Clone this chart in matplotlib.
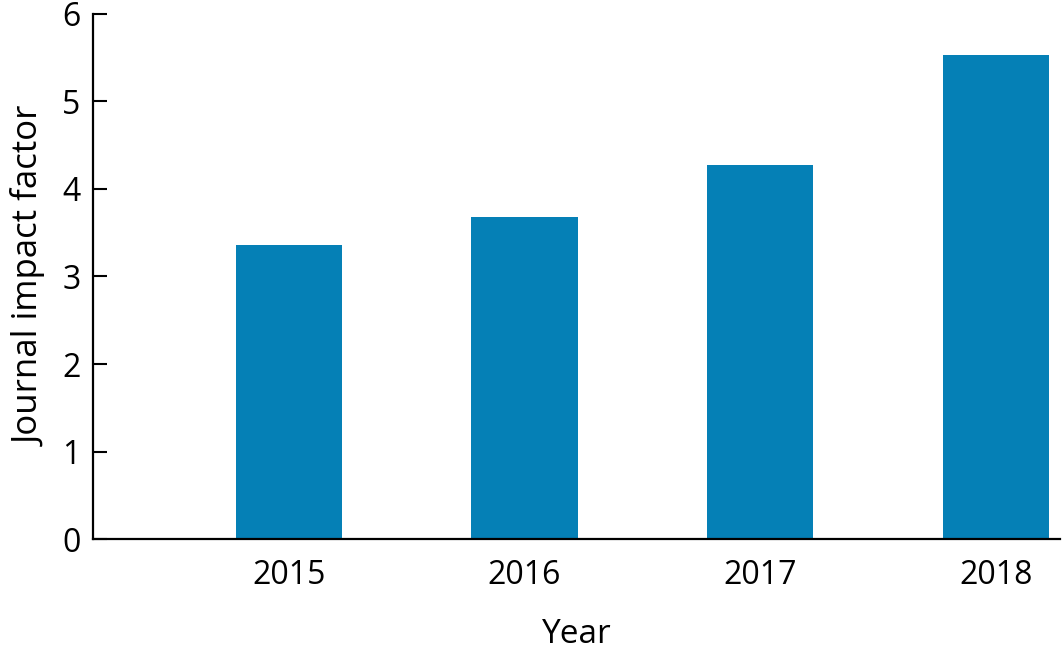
import matplotlib
matplotlib.use("Agg")
import matplotlib.pyplot as plt
import numpy as np

# data
years = ["2015", "2016", "2017", "2018"]
impact = [3.36, 3.68, 4.27, 5.53]

plt.rcParams['font.family'] = ['Open Sans', 'DejaVu Sans']

fig = plt.figure(figsize=(10.64, 6.53), dpi=100)
ax = fig.add_axes([0.0874, 0.1741, 0.9086, 0.805])

x = np.arange(len(years))
ax.bar(x, impact, width=0.45, color='#0580b6')

ax.set_xlim(-0.83, 3.27)
ax.set_ylim(0, 6)
ax.set_yticks(range(0, 7))
ax.set_xticks(x)
ax.set_xticklabels(years)

for side in ['top', 'right']:
    ax.spines[side].set_visible(False)
for side in ['left', 'bottom']:
    ax.spines[side].set_linewidth(1.6)
    ax.spines[side].set_color('black')

ax.tick_params(axis='y', direction='in', length=10, width=1.5, pad=9, labelsize=23)
ax.tick_params(axis='x', length=0, pad=14, labelsize=23)

ax.set_xlabel('Year', fontsize=24, labelpad=19)
ax.set_ylabel('Journal impact factor', fontsize=25, labelpad=10)

fig.savefig('out.png', dpi=100)
